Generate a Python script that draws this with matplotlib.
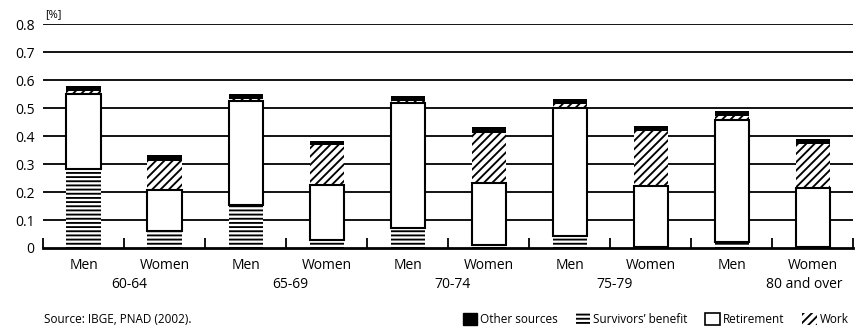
import numpy as np
import matplotlib
matplotlib.use('Agg')
import matplotlib.pyplot as plt
from matplotlib.patches import Patch

plt.rcParams['font.family'] = ['Open Sans', 'DejaVu Sans']
plt.rcParams['hatch.linewidth'] = 1.35

# data (share of income)
sexes = ['Men', 'Women'] * 5
age_groups = ['60-64', '65-69', '70-74', '75-79', '80 and over']
survivors = [0.282, 0.062, 0.154, 0.028, 0.073, 0.011, 0.044, 0.003, 0.023, 0.002]
retirement = [0.270, 0.145, 0.372, 0.197, 0.446, 0.222, 0.457, 0.218, 0.434, 0.211]
work = [0.010, 0.104, 0.006, 0.143, 0.007, 0.179, 0.012, 0.198, 0.014, 0.160]
other = [0.017, 0.021, 0.017, 0.014, 0.017, 0.020, 0.018, 0.017, 0.018, 0.016]
yticks = [0, 0.1, 0.2, 0.3, 0.4, 0.5, 0.6, 0.7, 0.8]
ytick_labels = ['0', '0.1', '0.2', '0.3', '0.4', '0.5', '0.6', '0.7', '0.8']

fig = plt.figure(figsize=(8.55, 3.3), dpi=100)
ax = fig.add_axes([0.0503, 0.2485, 0.9474, 0.6785])

x = np.arange(len(sexes))
w = 0.42
s = np.array(survivors)
r = np.array(retirement)
wk = np.array(work)
o = np.array(other)

ax.bar(x, s, w, color='white', edgecolor='black', hatch='----', linewidth=0, zorder=3)
ax.bar(x, r, w, bottom=s, color='white', edgecolor='black', linewidth=1.5, zorder=4)
ax.bar(x, wk, w, bottom=s + r, color='white', edgecolor='black', hatch='////', linewidth=0, zorder=3)
ax.bar(x, o, w, bottom=s + r + wk, color='black', edgecolor='black', linewidth=0, zorder=3)

ax.set_xlim(-0.5, 9.5)
ax.set_ylim(0, 0.8)
ax.set_yticks(yticks)
ax.set_yticklabels(ytick_labels, fontsize=10)
ax.tick_params(axis='y', length=0, pad=6)
for yv in yticks[1:]:
    ax.axhline(yv, color='black', lw=1.3, zorder=1)

ax.set_xticks(np.arange(-0.5, 10, 1))
ax.set_xticklabels([])
ax.tick_params(axis='x', direction='in', length=7.5, width=1.3)
for sp in ['top', 'right', 'left']:
    ax.spines[sp].set_visible(False)
ax.spines['bottom'].set_linewidth(2)

for i, lab in enumerate(sexes):
    ax.text(i, -0.064, lab, ha='center', va='center', fontsize=10, clip_on=False)
group_x = [0.57, 2.55, 4.56, 6.56, 8.9]
for gx, lab in zip(group_x, age_groups):
    ax.text(gx, -0.132, lab, ha='center', va='center', fontsize=10, clip_on=False)

ax.text(-0.48, 0.815, '[%]', fontsize=8, ha='left', va='bottom', clip_on=False)
fig.text(0.0515, 0.033, 'Source: IBGE, PNAD (2002).', fontsize=8.5, ha='left', va='center')

handles = [
    Patch(facecolor='black', edgecolor='black', label='Other sources'),
    Patch(facecolor='white', edgecolor='black', hatch='----', linewidth=0, label='Survivors\u2019 benefit'),
    Patch(facecolor='white', edgecolor='black', linewidth=1.2, label='Retirement'),
    Patch(facecolor='white', edgecolor='black', hatch='////', linewidth=0, label='Work'),
]
fig.legend(handles=handles, loc='center right', bbox_to_anchor=(1.0, 0.033), ncol=4,
           frameon=False, fontsize=8.5, handlelength=1.2, handleheight=1.2,
           handletextpad=0.3, columnspacing=1.5, borderpad=0)

fig.savefig('out.png', dpi=100)
